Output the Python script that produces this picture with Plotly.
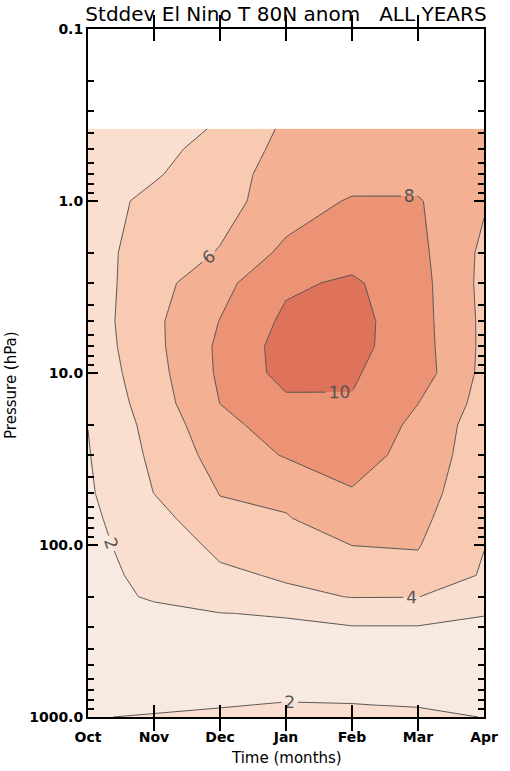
import plotly.graph_objects as go

# Time axis: monthly means, October through April
months = ["Oct", "Nov", "Dec", "Jan", "Feb", "Mar", "Apr"]
month_index = list(range(len(months)))

# Pressure levels (hPa), surface to upper stratosphere
pressure = [1000, 850, 700, 500, 400, 300, 250, 200, 150, 100, 70, 50,
            30, 20, 15, 10, 7, 5, 3, 2, 1, 0.7, 0.5, 0.38]

# Standard deviation of the 80N temperature anomaly (K), one column per month
sd_oct = [1.95, 1.75, 1.55, 1.40, 1.35, 1.30, 1.30, 1.35, 1.45, 1.55, 1.65, 1.75,
          1.90, 2.02, 2.30, 2.60, 2.80, 2.90, 3.00, 3.10, 3.20, 3.20, 3.20, 3.20]
sd_nov = [2.08, 1.80, 1.60, 1.45, 1.45, 1.48, 1.55, 2.20, 2.45, 2.80, 3.20, 4.02,
          4.40, 4.70, 5.00, 5.30, 5.50, 5.60, 5.27, 5.06, 4.45, 3.81, 3.60, 3.50]
sd_dec = [2.15, 1.95, 1.80, 1.60, 1.55, 1.75, 1.97, 2.80, 3.67, 4.44, 5.60, 6.05,
          6.80, 7.40, 8.02, 8.30, 8.35, 8.05, 7.40, 6.10, 5.40, 5.10, 4.50, 4.12]
sd_jan = [2.40, 2.05, 1.80, 1.60, 1.55, 1.80, 2.10, 3.64, 4.20, 5.00, 5.90, 6.35,
          8.15, 9.00, 9.60, 10.70, 10.80, 10.40, 9.67, 8.50, 6.86, 6.90, 6.67, 6.36]
sd_feb = [2.35, 2.02, 1.80, 1.60, 1.65, 1.90, 3.00, 4.05, 5.00, 6.02, 6.90, 7.80,
          9.05, 9.60, 9.90, 10.17, 10.60, 10.70, 10.30, 9.20, 8.22, 7.03, 6.80, 6.60]
sd_mar = [2.20, 1.95, 1.80, 1.60, 1.65, 1.90, 3.00, 4.03, 5.50, 6.10, 6.40, 6.65,
          7.10, 7.50, 8.02, 9.00, 8.84, 8.76, 8.70, 8.50, 8.16, 7.30, 6.90, 6.70]
sd_apr = [1.98, 1.75, 1.60, 1.50, 1.50, 1.80, 2.05, 2.90, 3.80, 4.05, 4.60, 4.90,
          5.00, 5.00, 5.30, 5.50, 5.60, 5.60, 5.50, 5.60, 6.20, 6.50, 6.60, 6.70]

# pressure axis: labelled decades and unlabelled intermediate ticks
decades = [0.1, 1, 10, 100, 1000]
decade_labels = ["0.1", "1.0", "10.0", "100.0", "1000.0"]
minor_ticks = [round(d * k, 6) for d in decades[:-1] for k in range(2, 10)]

columns = [sd_oct, sd_nov, sd_dec, sd_jan, sd_feb, sd_mar, sd_apr]
# z[level][month]
z = [[col[j] for col in columns] for j in range(len(pressure))]

# one fill colour per band: <2, 2-4, 4-6, 6-8, 8-10, >10
band_colors = ["#F8EAE1", "#FADECF", "#F8CAB1", "#F4B092", "#EB9374", "#DF725A"]
colorscale = [[i / (len(band_colors) - 1), c] for i, c in enumerate(band_colors)]

fig = go.Figure()
fig.add_trace(go.Contour(
    x=month_index,
    y=pressure,
    z=z,
    colorscale=colorscale,
    showscale=False,
    contours=dict(start=2, end=10, size=2, coloring="fill", showlabels=True,
                  labelfont=dict(family="DejaVu Sans", size=17, color="#555555")),
    line=dict(color="#555555", width=1, smoothing=0),
    hoverinfo="skip",
))
# invisible companion trace that carries the longer decade ticks on a twin axis
fig.add_trace(go.Scatter(x=[month_index[0]], y=[decades[1]], yaxis="y2",
                         mode="markers", marker=dict(opacity=0),
                         showlegend=False, hoverinfo="skip"))

tick_font = dict(family="DejaVu Sans", size=14, color="black", weight="bold")
y_range = [3, -1]

all_ticks = sorted(decades + minor_ticks)
all_labels = [decade_labels[decades.index(v)] if v in decades else "" for v in all_ticks]

fig.update_layout(
    width=510, height=771,
    margin=dict(l=88, r=16, t=29, b=54),
    paper_bgcolor="white", plot_bgcolor="white",
    showlegend=False,
    title=dict(text="Stddev El Nino T 80N anom   ALL YEARS",
               x=0.5, xref="paper", xanchor="center",
               y=1 - 14 / 771, yref="container", yanchor="middle",
               font=dict(family="DejaVu Sans", size=20, color="black")),
    xaxis=dict(range=[0, 6], tickmode="array", tickvals=month_index, ticktext=months,
               ticks="inside", ticklen=12, tickwidth=1.5, tickcolor="black",
               ticklabelstandoff=6, layer="above traces",
               showline=True, linecolor="black", linewidth=2, mirror="allticks",
               showgrid=False, zeroline=False, tickfont=tick_font),
    yaxis=dict(type="log", range=y_range, tickmode="array",
               tickvals=all_ticks, ticktext=all_labels,
               ticks="inside", ticklen=6, tickwidth=1.5, tickcolor="black",
               layer="above traces",
               showline=True, linecolor="black", linewidth=2, mirror="allticks",
               showgrid=False, zeroline=False, tickfont=tick_font),
    yaxis2=dict(type="log", range=y_range, overlaying="y", side="left", anchor="x",
                tickmode="array", tickvals=decades, showticklabels=False,
                ticks="inside", ticklen=10, tickwidth=2, tickcolor="black",
                layer="above traces",
                showline=False, mirror="ticks", showgrid=False, zeroline=False),
    annotations=[
        dict(text="Time (months)", xref="paper", yref="paper", x=0.5, y=-41 / 688,
             xanchor="center", yanchor="middle", showarrow=False,
             font=dict(family="DejaVu Sans", size=15, color="black")),
        dict(text="Pressure (hPa)", xref="paper", yref="paper", x=(9 - 88) / 406,
             y=(717 - 385) / 688,
             xanchor="center", yanchor="middle", textangle=-90, showarrow=False,
             font=dict(family="DejaVu Sans", size=15, color="black")),
    ],
)

fig.write_html("out.html")
